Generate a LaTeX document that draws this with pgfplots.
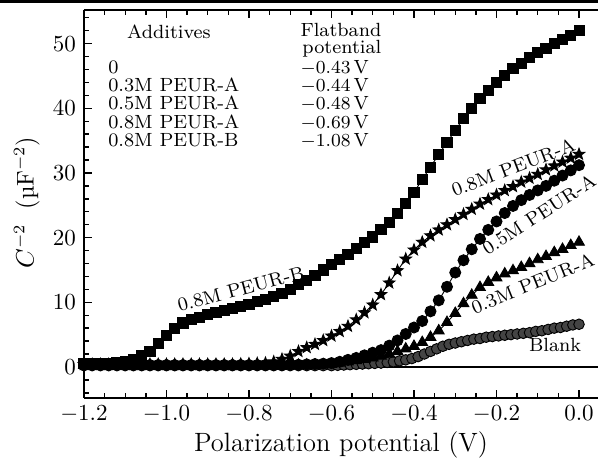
\documentclass[border=0pt]{standalone}
\usepackage{pgfplots}
\pgfplotsset{compat=1.18}
\definecolor{blankgray}{RGB}{68,68,68}
\pgfdeclareplotmark{fstar}{%
  \pgfpathmoveto{\pgfpointpolar{90}{\pgfplotmarksize}}%
  \pgfpathlineto{\pgfpointpolar{126}{0.42\pgfplotmarksize}}%
  \pgfpathlineto{\pgfpointpolar{162}{\pgfplotmarksize}}%
  \pgfpathlineto{\pgfpointpolar{198}{0.42\pgfplotmarksize}}%
  \pgfpathlineto{\pgfpointpolar{234}{\pgfplotmarksize}}%
  \pgfpathlineto{\pgfpointpolar{270}{0.42\pgfplotmarksize}}%
  \pgfpathlineto{\pgfpointpolar{306}{\pgfplotmarksize}}%
  \pgfpathlineto{\pgfpointpolar{342}{0.42\pgfplotmarksize}}%
  \pgfpathlineto{\pgfpointpolar{18}{\pgfplotmarksize}}%
  \pgfpathlineto{\pgfpointpolar{54}{0.42\pgfplotmarksize}}%
  \pgfpathclose
  \pgfusepathqfillstroke
}
\newcommand{\ann}{\fontsize{8.3}{10}\selectfont}
\begin{document}
\begin{tikzpicture}
\begin{axis}[
  scale only axis, width=223.5pt, height=168.7pt,
  xmin=-1.2, xmax=0.046, ymin=-4.8, ymax=55.2,
  axis x line*=box, axis y line*=left,
  xtick={-1.2,-1.0,-0.8,-0.6,-0.4,-0.2,0},
  minor xtick={-1.15,-1.1,-1.05,-0.95,-0.9,-0.85,-0.75,-0.7,-0.65,-0.55,-0.5,-0.45,-0.35,-0.3,-0.25,-0.15,-0.1,-0.05},
  ytick={0,10,20,30,40,50},
  minor ytick={-4,-2,2,4,6,8,12,14,16,18,22,24,26,28,32,34,36,38,42,44,46,48,52,54},
  xticklabel style={/pgf/number format/.cd, fixed, fixed zerofill, precision=1},
  tick style={black, line width=0.6pt},
  major tick length=3.5pt, minor tick length=2pt,
  axis line style={line width=0.8pt},
  xlabel={Polarization potential (V)},
  xlabel style={at={(axis description cs:0.5,-0.122)}, anchor=center, font=\fontsize{11.5}{14}\selectfont},
  ylabel={$C^{-2}$\hspace{0.6em}(\textmu F$^{-2}$)},
  ylabel style={at={(axis description cs:-0.111,0.504)}, anchor=center, font=\fontsize{10.5}{12}\selectfont},
]
\coordinate (sw) at (rel axis cs:0,0);
\coordinate (nw) at (rel axis cs:0,1);
\coordinate (ne) at (rel axis cs:1,1);
\draw[line width=0.65pt] (axis cs:-1.2,0) -- (axis cs:0.046,0);

% Blank (grey circles)
\addplot[black, line width=0.4pt, mark=*, mark size=2.3pt, mark options={fill=blankgray, draw=black}] coordinates {
(-1.20,0.2)(-1.18,0.2)(-1.16,0.2)(-1.14,0.2)(-1.12,0.2)(-1.10,0.2)(-1.08,0.2)(-1.06,0.2)(-1.04,0.2)(-1.02,0.2)(-1.00,0.2)(-0.98,0.2)(-0.96,0.2)(-0.94,0.2)(-0.92,0.2)(-0.90,0.2)(-0.88,0.2)(-0.86,0.2)(-0.84,0.2)(-0.82,0.2)(-0.80,0.2)(-0.78,0.2)(-0.76,0.2)(-0.74,0.2)(-0.72,0.2)(-0.70,0.2)(-0.68,0.2)(-0.66,0.2)(-0.64,0.2)(-0.62,0.2)(-0.60,0.2)
(-0.585,0.25)(-0.57,0.3)(-0.555,0.35)(-0.54,0.4)(-0.525,0.45)(-0.51,0.5)(-0.495,0.55)(-0.48,0.6)(-0.465,0.7)(-0.45,0.8)(-0.435,0.95)(-0.42,1.1)(-0.405,1.3)(-0.39,1.6)(-0.375,2.0)(-0.36,2.4)(-0.345,2.8)(-0.33,3.2)(-0.315,3.5)(-0.30,3.7)(-0.285,3.9)(-0.27,4.1)(-0.255,4.3)(-0.24,4.4)(-0.225,4.6)(-0.21,4.7)(-0.195,4.8)(-0.18,4.9)(-0.165,5.0)(-0.15,5.1)(-0.135,5.2)(-0.12,5.3)(-0.105,5.5)(-0.09,5.6)(-0.075,5.8)(-0.06,6.0)(-0.045,6.1)(-0.03,6.3)(-0.015,6.5)(0.0,6.6)
};
% 0.8M PEUR-B (squares)
\addplot[black, line width=0.4pt, mark=square*, mark size=2.2pt, mark options={fill=black}] coordinates {
(-1.20,0.5)(-1.18,0.5)(-1.16,0.55)(-1.14,0.6)(-1.12,0.7)(-1.10,0.85)(-1.08,1.2)(-1.06,1.7)(-1.04,2.4)(-1.02,3.6)(-1.00,4.9)(-0.98,6.0)(-0.96,6.8)(-0.94,7.3)(-0.92,7.7)(-0.90,8.1)(-0.88,8.4)(-0.86,8.7)(-0.84,9.0)(-0.82,9.4)(-0.80,9.7)(-0.78,10.1)(-0.76,10.5)(-0.74,10.9)(-0.72,11.4)(-0.70,12.0)(-0.68,12.7)(-0.66,13.4)(-0.64,14.2)(-0.62,15.0)(-0.60,15.8)(-0.58,16.6)(-0.56,17.4)(-0.54,18.3)(-0.52,19.2)(-0.50,20.1)(-0.48,21.2)(-0.46,22.4)(-0.44,23.7)(-0.42,25.3)(-0.40,27.0)(-0.38,29.0)(-0.36,30.9)(-0.34,32.9)(-0.32,34.7)(-0.30,36.6)(-0.28,38.4)(-0.26,40.0)(-0.24,41.5)(-0.22,42.8)(-0.20,44.0)(-0.18,45.1)(-0.16,46.1)(-0.14,47.0)(-0.12,47.8)(-0.10,48.6)(-0.08,49.3)(-0.06,50.0)(-0.04,50.6)(-0.02,51.3)(0.00,52.0)
};
% 0.8M PEUR-A (stars)
\addplot[black, line width=0.4pt, mark=fstar, mark size=2.6pt, mark options={fill=black}] coordinates {
(-1.20,0.4)(-1.18,0.4)(-1.16,0.4)(-1.14,0.4)(-1.12,0.4)(-1.10,0.4)(-1.08,0.4)(-1.06,0.4)(-1.04,0.4)(-1.02,0.4)(-1.00,0.4)(-0.98,0.4)(-0.96,0.4)(-0.94,0.4)(-0.92,0.4)(-0.90,0.4)(-0.88,0.4)(-0.86,0.4)(-0.84,0.4)(-0.82,0.45)(-0.80,0.5)(-0.78,0.55)(-0.76,0.6)(-0.74,0.8)(-0.72,1.2)(-0.70,1.7)(-0.68,2.4)(-0.66,3.0)(-0.64,3.5)(-0.62,4.1)(-0.60,4.8)(-0.58,5.5)(-0.56,6.3)(-0.54,7.3)(-0.52,8.4)(-0.50,9.6)(-0.48,11.2)(-0.46,13.0)(-0.44,14.9)(-0.42,16.7)(-0.40,18.1)(-0.38,19.3)(-0.36,20.3)(-0.34,21.2)(-0.32,22.0)(-0.30,22.8)(-0.28,23.6)(-0.26,24.4)(-0.24,25.2)(-0.22,25.9)(-0.20,26.6)(-0.18,27.3)(-0.16,27.9)(-0.14,28.6)(-0.12,29.2)(-0.10,29.8)(-0.08,30.5)(-0.06,31.1)(-0.04,31.7)(-0.02,32.3)(0.00,32.9)
};
% 0.5M PEUR-A (circles)
\addplot[black, line width=0.4pt, mark=*, mark size=2.4pt, mark options={fill=black}] coordinates {
(-1.20,0.3)(-1.18,0.3)(-1.16,0.3)(-1.14,0.3)(-1.12,0.3)(-1.10,0.3)(-1.08,0.3)(-1.06,0.3)(-1.04,0.3)(-1.02,0.3)(-1.00,0.3)(-0.98,0.3)(-0.96,0.3)(-0.94,0.3)(-0.92,0.3)(-0.90,0.3)(-0.88,0.3)(-0.86,0.3)(-0.84,0.3)(-0.82,0.3)(-0.80,0.3)(-0.78,0.3)(-0.76,0.3)(-0.74,0.3)(-0.72,0.3)(-0.70,0.35)(-0.68,0.35)(-0.66,0.4)(-0.64,0.45)(-0.62,0.5)(-0.60,0.6)(-0.58,0.8)(-0.56,1.1)(-0.54,1.4)(-0.52,1.8)(-0.50,2.2)(-0.48,2.6)(-0.46,3.3)(-0.44,4.1)(-0.42,5.1)(-0.40,6.1)(-0.38,7.1)(-0.36,8.6)(-0.34,10.3)(-0.32,12.4)(-0.30,14.6)(-0.28,16.5)(-0.26,18.2)(-0.24,19.8)(-0.22,21.2)(-0.20,22.5)(-0.18,23.8)(-0.16,24.9)(-0.14,25.8)(-0.12,26.6)(-0.10,27.3)(-0.08,28.0)(-0.06,28.8)(-0.04,29.6)(-0.02,30.4)(0.00,31.2)
};
% 0.3M PEUR-A (triangles)
\addplot[black, line width=0.4pt, mark=triangle*, mark size=2.7pt, mark options={fill=black}] coordinates {
(-1.20,0.3)(-1.18,0.3)(-1.16,0.3)(-1.14,0.3)(-1.12,0.3)(-1.10,0.3)(-1.08,0.3)(-1.06,0.3)(-1.04,0.3)(-1.02,0.3)(-1.00,0.3)(-0.98,0.3)(-0.96,0.3)(-0.94,0.3)(-0.92,0.3)(-0.90,0.3)(-0.88,0.3)(-0.86,0.3)(-0.84,0.3)(-0.82,0.3)(-0.80,0.3)(-0.78,0.3)(-0.76,0.3)(-0.74,0.3)(-0.72,0.3)(-0.70,0.3)(-0.68,0.3)(-0.66,0.3)(-0.64,0.3)(-0.62,0.35)(-0.60,0.4)(-0.58,0.6)(-0.56,0.8)(-0.54,1.0)(-0.52,1.2)(-0.50,1.4)(-0.48,1.7)(-0.46,2.0)(-0.44,2.4)(-0.42,2.8)(-0.40,3.2)(-0.38,3.8)(-0.36,4.6)(-0.34,5.6)(-0.32,6.9)(-0.30,8.3)(-0.28,9.8)(-0.26,11.1)(-0.24,12.3)(-0.22,13.1)(-0.20,13.8)(-0.18,14.4)(-0.16,14.9)(-0.14,15.4)(-0.12,16.0)(-0.10,16.6)(-0.08,17.1)(-0.06,17.7)(-0.04,18.2)(-0.02,18.8)(0.00,19.3)
};

% curve labels
\node[font=\ann, rotate=15] at (axis cs:-0.820,12.05) {0.8M PEUR-B};
\node[font=\ann, rotate=21] at (axis cs:-0.159,30.9) {0.8M PEUR-A};
\node[font=\ann, rotate=33] at (axis cs:-0.097,23.6) {0.5M PEUR-A};
\node[font=\ann, rotate=22] at (axis cs:-0.112,12.9) {0.3M PEUR-A};
\node[font=\ann] at (axis cs:-0.058,3.4) {Blank};

% table
\node[font=\ann, anchor=base] at (axis cs:-0.994,50.85) {Additives};
\node[font=\ann, anchor=base west, inner sep=0pt] at (axis cs:-0.676,51.1) {Flatband};
\node[font=\ann, anchor=base west, inner sep=0pt] at (axis cs:-0.6715,48.5) {potential};
\node[font=\ann, anchor=base west, inner sep=0pt] at (axis cs:-1.142,45.4) {0};
\node[font=\ann, anchor=base west, inner sep=0pt] at (axis cs:-1.142,42.6) {0.3M PEUR-A};
\node[font=\ann, anchor=base west, inner sep=0pt] at (axis cs:-1.142,39.8) {0.5M PEUR-A};
\node[font=\ann, anchor=base west, inner sep=0pt] at (axis cs:-1.142,36.9) {0.8M PEUR-A};
\node[font=\ann, anchor=base west, inner sep=0pt] at (axis cs:-1.142,34.1) {0.8M PEUR-B};
\node[font=\ann, anchor=base west, inner sep=0pt] at (axis cs:-0.676,45.4) {$-0.43$\,V};
\node[font=\ann, anchor=base west, inner sep=0pt] at (axis cs:-0.676,42.6) {$-0.44$\,V};
\node[font=\ann, anchor=base west, inner sep=0pt] at (axis cs:-0.676,39.8) {$-0.48$\,V};
\node[font=\ann, anchor=base west, inner sep=0pt] at (axis cs:-0.676,36.9) {$-0.69$\,V};
\node[font=\ann, anchor=base west, inner sep=0pt] at (axis cs:-0.676,34.1) {$-1.08$\,V};
\end{axis}
\draw[line width=0.9pt] ([xshift=-36.5pt,yshift=3.7pt]nw) -- ([yshift=3.7pt]ne);
\pgfresetboundingbox
\useasboundingbox ([xshift=-36.5pt,yshift=-25.7pt]sw) rectangle ([yshift=4.35pt]ne);
\end{tikzpicture}
\end{document}
